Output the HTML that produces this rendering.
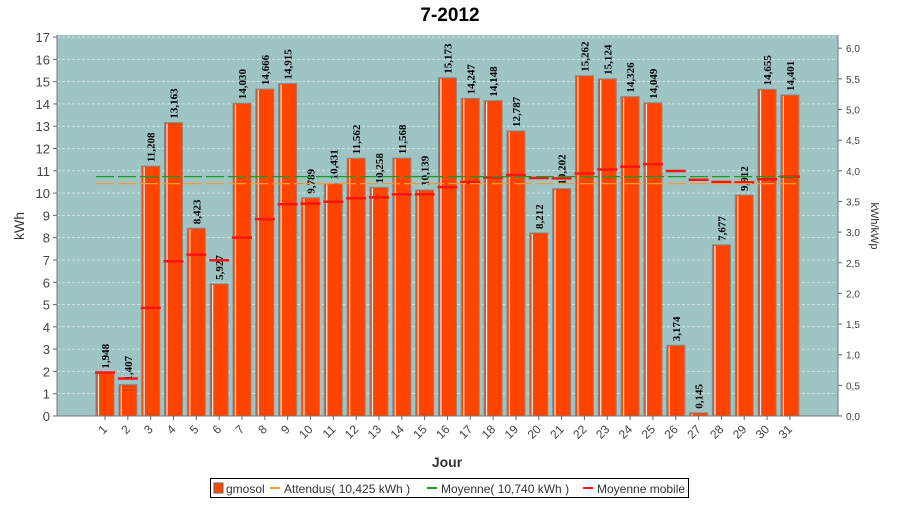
<!DOCTYPE html>
<html><head><meta charset="utf-8"><style>
body{margin:0;background:#fff;width:900px;height:500px;overflow:hidden;font-family:"Liberation Sans",sans-serif}
</style></head><body>
<svg id="chart" width="900" height="500" xmlns="http://www.w3.org/2000/svg">
<text x="450" y="21" text-anchor="middle" font-size="19" font-weight="bold" fill="#000" font-family="Liberation Sans">7-2012</text>
<rect x="57" y="35" width="781" height="381" fill="#9ec4c4"/>
<g id="grid"></g><g id="bars"></g><g id="lines"></g><g id="axes"></g>
<text transform="translate(24,226) rotate(-90)" text-anchor="middle" font-size="14" fill="#333">kWh</text>
<text transform="translate(871,226) rotate(90)" text-anchor="middle" font-size="11" fill="#333">kWh/kWp</text>
<text x="447" y="467" text-anchor="middle" font-size="14" font-weight="bold" fill="#333">Jour</text>
<g>
<rect x="210.5" y="478.5" width="478" height="19" fill="#fff" stroke="#000"/>
<rect x="214" y="483" width="9" height="10" fill="#ff4400" stroke="#666"/>
<text x="226" y="493" font-size="12" fill="#333">gmosol</text>
<rect x="270" y="487" width="10" height="2" fill="#ff9933"/>
<text x="284" y="493" font-size="12" fill="#333">Attendus( 10,425 kWh )</text>
<rect x="427" y="487" width="10" height="2" fill="#1a9a1a"/>
<text x="441" y="493" font-size="12" fill="#333">Moyenne( 10,740 kWh )</text>
<rect x="583" y="487" width="10" height="2" fill="#ff1111"/>
<text x="597" y="493" font-size="12" fill="#333">Moyenne mobile</text>
</g>
</svg>
<script>
const days=["1","2","3","4","5","6","7","8","9","10","11","12","13","14","15","16","17","18","19","20","21","22","23","24","25","26","27","28","29","30","31"];
const production=[1.948,1.407,11.208,13.163,8.423,5.927,14.030,14.666,14.915,9.789,10.431,11.562,10.258,11.568,10.139,15.173,14.247,14.148,12.787,8.212,10.202,15.262,15.124,14.326,14.049,3.174,0.145,7.677,9.912,14.655,14.401];
const movingAvg=[1.95,1.68,4.85,6.94,7.24,6.99,8.0,8.83,9.5,9.53,9.61,9.77,9.81,9.94,9.95,10.27,10.5,10.7,10.81,10.68,10.66,10.88,11.06,11.19,11.3,10.99,10.6,10.5,10.48,10.62,10.74];
const attendus=[10.425];
const moyenne=[10.740];
const yTicks=[0,1,2,3,4,5,6,7,8,9,10,11,12,13,14,15,16,17];
const y2Ticks=["0,0","0,5","1,0","1,5","2,0","2,5","3,0","3,5","4,0","4,5","5,0","5,5","6,0"];
const NS="http://www.w3.org/2000/svg";
const y=v=>416-v*22.29;
const y2=v=>416-v*61.3;
const x=i=>105+i*22.83;
function mk(p,t,a){const e=document.createElementNS(NS,t);for(const k in a)e.setAttribute(k,a[k]);document.getElementById(p).appendChild(e);return e;}
yTicks.forEach(v=>{
 if(v>0){const g=mk('grid','line',{x1:57,x2:838,y1:y(v),y2:y(v),stroke:'#fff','stroke-dasharray':'3,2','stroke-width':0.6,opacity:0.8});
 
 }
 mk('axes','line',{x1:53,x2:57,y1:y(v),y2:y(v),stroke:'#666'});
 const t=mk('axes','text',{x:50,y:y(v)+5,'text-anchor':'end','font-size':13,fill:'#444'});t.textContent=v;
 
 
});
y2Ticks.forEach((s,k)=>{
 const v=k*0.5;
 mk('axes','line',{x1:838,x2:842,y1:y2(v),y2:y2(v),stroke:'#666'});
 const t=mk('axes','text',{x:846,y:y2(v)+4,'font-size':10,fill:'#444'});t.textContent=s;
 
 
});
mk('axes','line',{x1:57,x2:57,y1:35,y2:416,stroke:'#777'});
mk('axes','line',{x1:838,x2:838,y1:35,y2:416,stroke:'#777'});
mk('axes','line',{x1:57,x2:838,y1:416,y2:416,stroke:'#777'});
days.forEach((d,i)=>{
 const cx=x(i),v=production[i],top=y(v);
 const b=mk('bars','rect',{x:cx-9,y:top,width:18,height:416-top,fill:'#ff4400',stroke:'#888','stroke-width':1});
 
 
 mk('bars','line',{x1:cx-6.5,x2:cx-6.5,y1:top+1,y2:416,stroke:'#fff','stroke-width':1.2,opacity:0.9});
 const l=mk('bars','text',{transform:`translate(${cx+4},${top-4}) rotate(-90)`,'font-size':11,'font-weight':'bold','font-family':'Liberation Serif',fill:'#000'});
 l.textContent=v.toFixed(3).replace('.',',');
 
 
 mk('axes','line',{x1:cx,x2:cx,y1:416,y2:420,stroke:'#666'});
 const t=mk('axes','text',{transform:`translate(${cx+3},${430}) rotate(-45)`,'text-anchor':'end','font-size':12,fill:'#444'});t.textContent=d;
 
 
 const m=mk('lines','line',{x1:cx-10,x2:cx+10,y1:y(movingAvg[i]),y2:y(movingAvg[i]),stroke:'#ff1111','stroke-width':2.5});
 
 
});
const a=mk('lines','line',{x1:x(0)-9,x2:x(30)+10,y1:y(attendus[0]),y2:y(attendus[0]),stroke:'#ff9933','stroke-width':1.3,'stroke-dasharray':'18,4'});


const g=mk('lines','line',{x1:x(0)-9,x2:x(30)+10,y1:y(moyenne[0]),y2:y(moyenne[0]),stroke:'#1a9a1a','stroke-width':1.3,'stroke-dasharray':'18,4'});


</script>
</body></html>
